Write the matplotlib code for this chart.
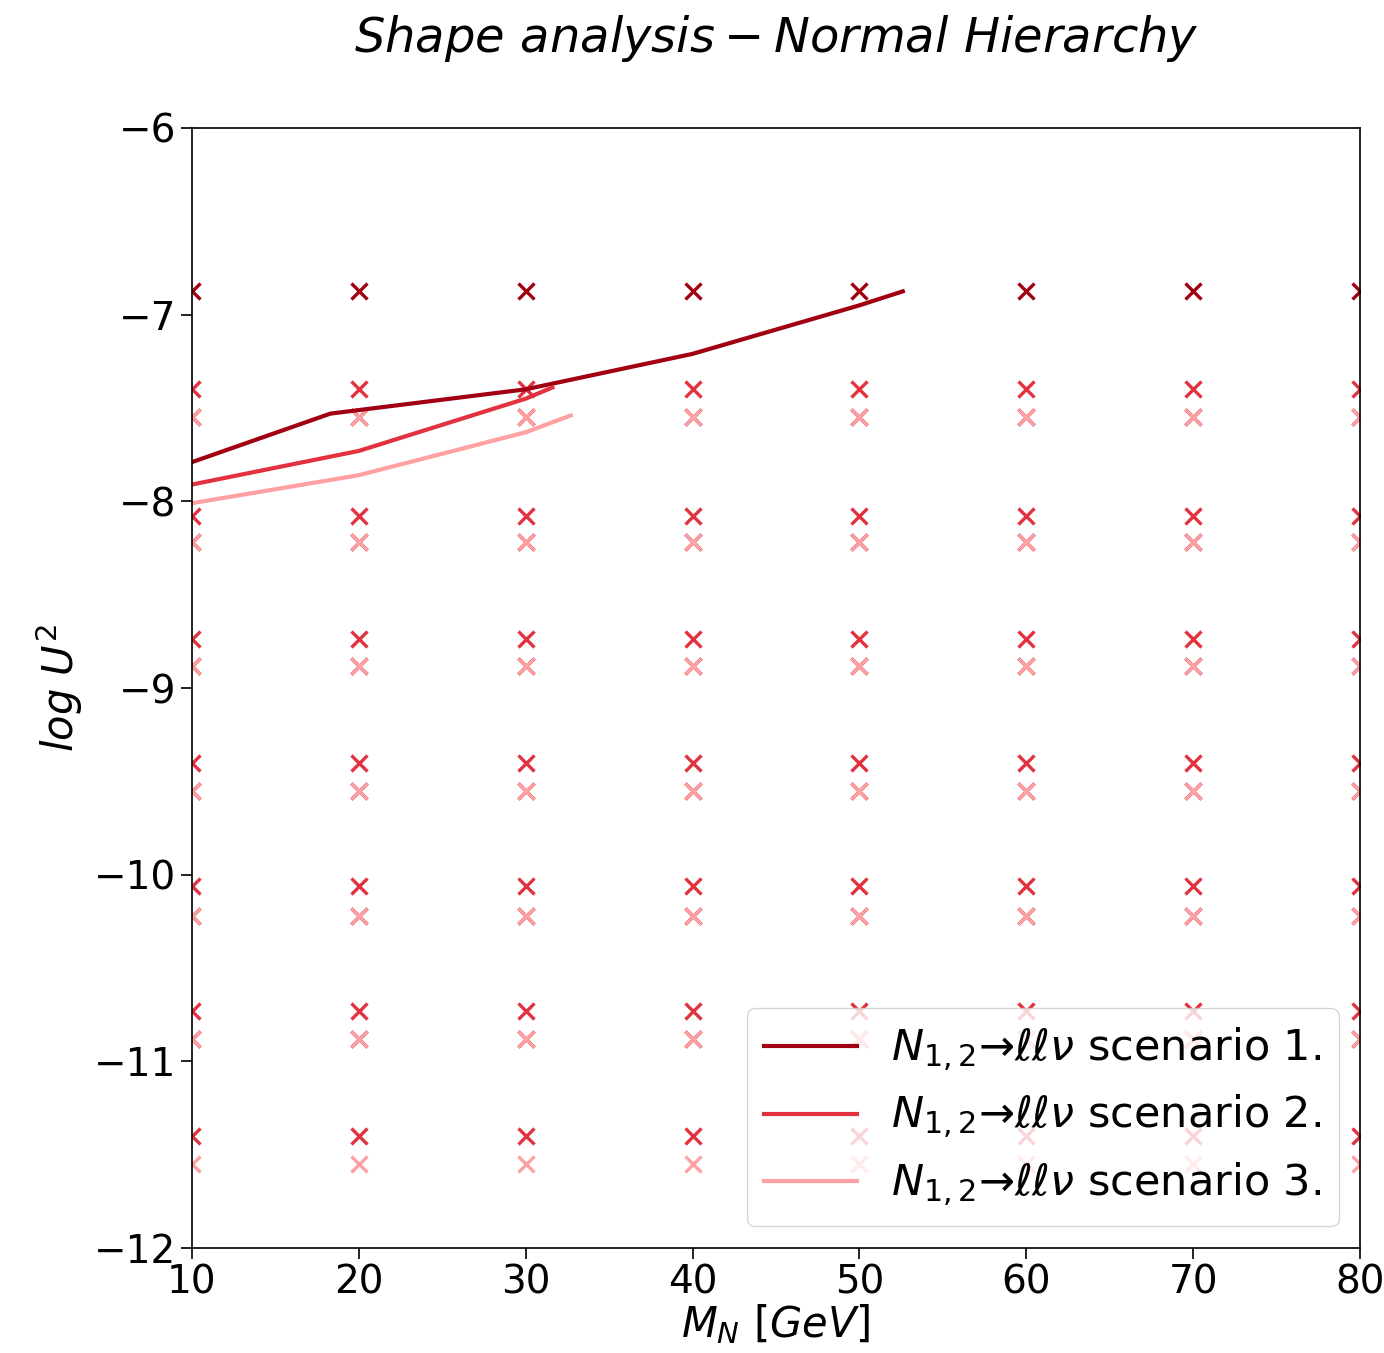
import numpy as np
import matplotlib
matplotlib.use('Agg')
import matplotlib.pyplot as plt

# grid of simulated masses
masses = [10, 20, 30, 40, 50, 60, 70, 80]
# log U^2 points per scenario
grid_s1 = [-6.875, -7.55, -8.22, -8.88, -9.55, -10.22, -10.88]
grid_s2 = [-7.40, -8.08, -8.74, -9.40, -10.06, -10.73, -11.40]
grid_s3 = [-7.55, -8.22, -8.88, -9.55, -10.22, -10.88, -11.55]

# exclusion curves
m_s1 = [10, 18.3, 30, 40, 50, 52.6]
u_s1 = [-7.79, -7.53, -7.40, -7.21, -6.95, -6.875]
m_s2 = [10, 20, 30, 31.6]
u_s2 = [-7.91, -7.73, -7.45, -7.39]
m_s3 = [10, 20, 30, 32.7]
u_s3 = [-8.01, -7.86, -7.63, -7.54]

c1 = '#a00010'
c2 = '#e3323f'
c3 = '#ffa0a3'

fig = plt.figure(figsize=(13.84, 13.53), dpi=100)
ax = fig.add_axes([0.1387, 0.0776, 0.844, 0.8278])

for grid, col in [(grid_s1, c1), (grid_s2, c2), (grid_s3, c3)]:
    mm, uu = np.meshgrid(masses, grid)
    ax.plot(mm.ravel(), uu.ravel(), 'x', color=col, markersize=11.5,
            markeredgewidth=2.4, clip_on=True)

lab = r'$N_{1,2}$→$\ell\ell\nu$ scenario '
ax.plot(m_s1, u_s1, color=c1, lw=3, label=lab + '1.')
ax.plot(m_s2, u_s2, color=c2, lw=3, label=lab + '2.')
ax.plot(m_s3, u_s3, color=c3, lw=3, label=lab + '3.')

ax.set_xlim(10, 80)
ax.set_ylim(-12, -6)
ax.set_xticks(range(10, 81, 10))
ax.set_yticks(range(-12, -5))
ax.tick_params(labelsize=28, length=8, width=1.2)
for s in ax.spines.values():
    s.set_linewidth(1.2)

ax.set_xlabel(r'$M_N\ [GeV]$', fontsize=30, labelpad=0)
ax.set_ylabel(r'$log\ U^2$', fontsize=30, labelpad=6)
ax.set_title(r'$Shape\ analysis - Normal\ Hierarchy$', fontsize=34.6, pad=55)

leg = ax.legend(loc='lower right', fontsize=31, handlelength=2.15,
                borderpad=0.4, labelspacing=0.45, framealpha=0.8,
                borderaxespad=0.5)
leg.get_frame().set_edgecolor('#cccccc')

fig.savefig('out.png', dpi=100)
